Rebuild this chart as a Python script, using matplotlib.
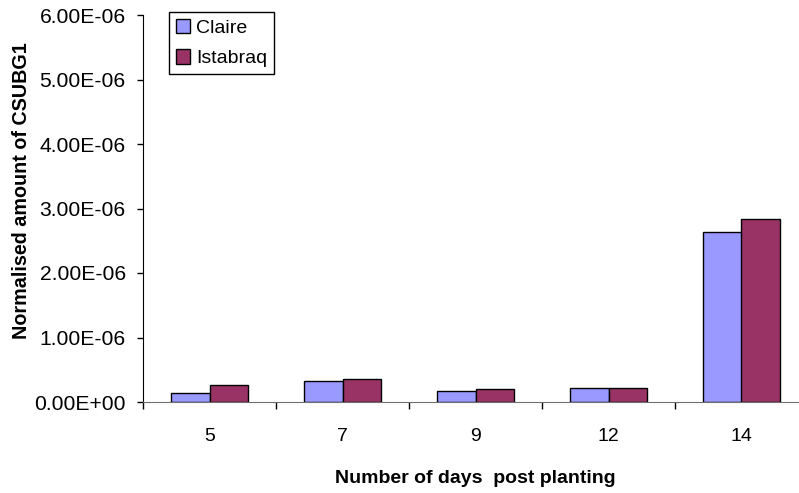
import numpy as np
import matplotlib
matplotlib.use("Agg")
import matplotlib.pyplot as plt
from matplotlib.ticker import FuncFormatter, FixedLocator

plt.rcParams['font.family'] = ['Liberation Sans', 'DejaVu Sans']

# expression data per sampling day
days = ['5', '7', '9', '12', '14']
claire = [0.14e-06, 0.33e-06, 0.17e-06, 0.22e-06, 2.64e-06]
istabraq = [0.26e-06, 0.35e-06, 0.20e-06, 0.22e-06, 2.83e-06]

fig = plt.figure(figsize=(7.99, 4.93), dpi=100, facecolor='white')
ax = fig.add_axes([143 / 799, 91 / 493, 665 / 799, 387 / 493])

x = np.arange(len(days))
w = 0.29
ax.bar(x - w / 2, claire, w, color='#9999FF', edgecolor='black', linewidth=1, label='Claire')
ax.bar(x + w / 2, istabraq, w, color='#993366', edgecolor='black', linewidth=1, label='Istabraq')

ax.set_xlim(-0.5, len(days) - 0.5)
ax.set_ylim(0, 6e-06)
ax.set_yticks(np.arange(0, 6.01e-06, 1e-06))
ax.yaxis.set_major_formatter(FuncFormatter(lambda v, p: f'{v:.2E}'))

# category labels at centres, tick marks at category boundaries
ax.set_xticks(x)
ax.set_xticklabels(days)
ax.xaxis.set_minor_locator(FixedLocator(np.arange(-0.5, len(days), 1.0)))
ax.tick_params(axis='x', which='major', length=0, pad=19, labelsize=14)
ax.tick_params(axis='x', which='minor', length=5, width=1, color='black', direction='out')
ax.tick_params(axis='y', length=4.5, width=1, direction='out', labelsize=15.2, pad=8)

for s in ['top', 'right']:
    ax.spines[s].set_visible(False)
ax.spines['left'].set_color('black')
ax.spines['bottom'].set_color('#707070')

ax.set_xlabel('Number of days  post planting', fontsize=14, fontweight='bold')
ax.xaxis.set_label_coords(0.5, -0.197)
ax.xaxis.label.set_va('center')
ax.set_ylabel('Normalised amount of CSUBG1', fontsize=14.2, fontweight='bold')
ax.yaxis.set_label_coords(-0.182, 0.545)
ax.yaxis.label.set_va('center')

leg = ax.legend(loc='upper left', bbox_to_anchor=(169 / 799, 1 - 12 / 493),
                bbox_transform=fig.transFigure, borderaxespad=0, fancybox=False,
                edgecolor='black', framealpha=1, fontsize=14,
                handlelength=0.75, handleheight=0.75, handletextpad=0.3,
                borderpad=0.35, labelspacing=0.65)
leg.get_frame().set_linewidth(1)

fig.savefig('out.png', dpi=100)
